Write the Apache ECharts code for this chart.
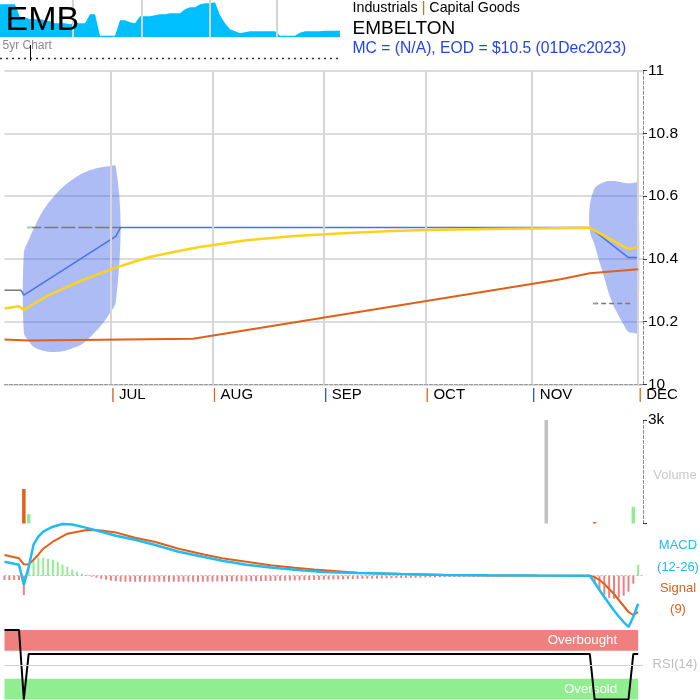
<!DOCTYPE html>
<html><head><meta charset="utf-8">
<script src="https://cdn.jsdelivr.net/npm/echarts@6/dist/echarts.min.js"></script>
<style>html,body{margin:0;padding:0;background:#fff}#c{width:700px;height:700px}</style>
</head><body><div id="c"></div>
<script>
// ---------- data ----------
const monthLabels = ['JUL','AUG','SEP','OCT','NOV','DEC'];
const monthDays = [22,43,66,87,109,131];          // trading-day index of first day of month
const monthBarColors = ['#c8561a','#e0601a','#2244e8','#e0601a','#2244e8','#e0601a'];
const priceTicks = [10,10.2,10.4,10.6,10.8,11];

const priceGrayDays = [0,3.4];
const priceGrayVals = [10.30,10.30];
const priceDays = [3.4,4,23,24,121,129,131];
const priceVals = [10.30,10.284,10.472,10.50,10.50,10.404,10.404];

const maShortDays = [0,3,4,6,9,12,16,19,23,26,30,35,40,45,50,60,70,80,90,100,110,121,129,131];
const maShortVals = [10.242,10.249,10.237,10.256,10.283,10.304,10.331,10.349,10.372,10.387,10.406,10.422,10.437,10.448,10.459,10.473,10.482,10.489,10.493,10.495,10.497,10.499,10.431,10.438];

const maLongDays = [0,5,20,39,115,121,131];
const maLongVals = [10.143,10.140,10.142,10.145,10.335,10.354,10.367];

const bandLeftDays  = [4,5,6,8,10,12,14,16,18,20,22,23,24];
const bandLeftUpper = [10.419,10.46,10.495,10.555,10.595,10.628,10.652,10.672,10.684,10.692,10.696,10.696,10.50];
const bandLeftLower = [10.164,10.138,10.120,10.107,10.103,10.105,10.115,10.128,10.155,10.188,10.232,10.262,10.50];
const bandRightDays  = [121,122,123,124,125,126,127,128,129,130,131];
const bandRightUpper = [10.57,10.625,10.638,10.645,10.648,10.648,10.646,10.643,10.641,10.642,10.642];
const bandRightLower = [10.49,10.445,10.39,10.34,10.287,10.247,10.218,10.19,10.167,10.164,10.164];

const refHighDays = [4.7,24];   const refHighVal = 10.50;
const refLowDays  = [121.7,129.5]; const refLowVal = 10.258;

const volDays = [4,5,112,122,130];
const volVals = [1000,270,3000,40,480];
const volDir  = ['down','up','flat','down','up'];

const macdDays = [0,3,4,5,6,7,8,10,12,14,17,20,23,27,31,36,41,45,50,55,60,66,73,82,91,100,110,121,122,123,124,125,126,127,128,129,130,131];
const macdVals = [0.014,0.011,-0.009,0.009,0.031,0.039,0.044,0.049,0.0517,0.0512,0.0478,0.044,0.040,0.036,0.031,0.024,0.019,0.015,0.011,0.0083,0.006,0.0038,0.0027,0.0016,0.0008,0.0004,0.0001,0,-0.0068,-0.0143,-0.0213,-0.028,-0.0348,-0.0408,-0.0463,-0.0513,-0.041,-0.028];
const signalDays = [0,3,4,5,6,7,8,10,13,17,20,23,27,31,36,41,45,50,55,60,64,73,82,91,100,110,121,122,123,124,125,126,127,128,129,130,131];
const signalVals = [0.0207,0.0174,0.0114,0.0112,0.016,0.021,0.027,0.034,0.042,0.0457,0.0452,0.0432,0.038,0.034,0.027,0.0215,0.0175,0.014,0.0105,0.008,0.0062,0.003,0.0017,0.0007,0.0003,0.0001,0,-0.0013,-0.0043,-0.0083,-0.0133,-0.0183,-0.0243,-0.0303,-0.0363,-0.0393,-0.0363];
const histVals = [
 -0.0043,-0.0043,-0.0043,-0.0043,-0.0193, 0.007,0.015,0.018,0.018,0.017,
 0.016,0.014,0.011,0.009,0.006, 0.004,0.002,0.001,-0.001,-0.002,
 -0.003,-0.004,-0.005,-0.0055,-0.006, -0.006,-0.006,-0.006,-0.006,-0.006,
 -0.006,-0.006,-0.006,-0.006,-0.006, -0.006,-0.006,-0.006,-0.006,-0.006,
 -0.006,-0.006,-0.0059,-0.0059,-0.0058, -0.0058,-0.0058,-0.0057,-0.0057,-0.0056,
 -0.0056,-0.0055,-0.0055,-0.0054,-0.0053, -0.0052,-0.0051,-0.005,-0.0049,-0.0048,
 -0.0047,-0.0046,-0.0045,-0.0044,-0.0043, -0.0042,-0.004,-0.0039,-0.0038,-0.0037,
 -0.0036,-0.0034,-0.0033,-0.0032,-0.0031, -0.003,-0.0029,-0.0028,-0.0027,-0.0026,
 -0.0025,-0.0024,-0.0023,-0.0022,-0.0021, -0.002,-0.0019,-0.0018,-0.0017,-0.0016,
 -0.0015,-0.0014,-0.0013,-0.0012,-0.0012, -0.0011,-0.001,-0.001,-0.0009,-0.0008,
 -0.0008,-0.0007,-0.0007,-0.0006,-0.0006, -0.0005,-0.0005,-0.0004,-0.0004,-0.0004,
 -0.0003,-0.0003,-0.0003,-0.0002,-0.0002, -0.0002,-0.0001,-0.0001,-0.0001,-0.0001,
 -0.0001,0, -0.008,-0.014,-0.019,-0.022,-0.023, -0.022,-0.020,-0.016,-0.008,0.011
];

const rsiDays = [0,3,4,5,121,122,129,130,131];
const rsiVals = [100,100,0,65.5,65.5,0,0,65.5,65.5];

const sparkVals = [33,33,33,33,20,20,18,18,18,17,16,14,14,14,13,14,14,14,23,23,1.5,1.5,1.5,1.5,17,17,15,14,21,21,21,22,23,23,24,24,24,28,30,30,33,34,34,35,22,14,8,6,4,5,6,6,6,6,6,6,1.5,1.5,1.5,1.5,4.5,6,6,6,6,6.5,6.5,6.5,6.5];
const sparkYearMarks = [14.6,28.4,42,55.4];

// ---------- chart ----------
const FONT = "'Liberation Sans', Arial, sans-serif";
const xy = (d, v) => d.map((x,i)=>[x, v[i]]);
const hidX = gi => ({type:'value', gridIndex:gi, min:0, max:132, show:false});
const bands = [
  {days:bandLeftDays, up:bandLeftUpper, lo:bandLeftLower},
  {days:bandRightDays, up:bandRightUpper, lo:bandRightLower}
];
const richLab = {t:{fontSize:15, color:'#000', fontFamily:FONT}};
monthBarColors.forEach((c,i)=>{ richLab['b'+i] = {fontSize:15, color:c, fontFamily:FONT}; });
const dirColor = {down:'#e0601a', up:'#90ee90', flat:'#c0c0c0'};

const chart = echarts.init(document.getElementById('c'));
chart.setOption({
  animation:false,
  backgroundColor:'#fff',
  textStyle:{fontFamily:FONT},
  grid:[
    {left:0, top:0, width:340, height:37.3},
    {left:4.5, top:70.7, width:638.5, height:313.6},
    {left:4.5, top:420, width:638.5, height:103.5},
    {left:4.5, top:515.7, width:638.5, height:120},
    {left:4.5, top:630, width:638.5, height:69.5}
  ],
  xAxis:[
    {type:'value', gridIndex:0, min:0, max:68, show:false},
    {type:'value', gridIndex:1, min:0, max:132,
      axisLine:{show:true, onZero:false, lineStyle:{color:'#999', type:[3,2], width:1}},
      axisTick:{show:false}, splitLine:{show:false},
      axisLabel:{customValues:monthDays, align:'left', margin:3, fontSize:15, color:'#000',
        formatter:v=>{const i=monthDays.indexOf(Math.round(v)); return i<0?'':'{b'+i+'||} {t|'+monthLabels[i]+'}';},
        rich:richLab}
    },
    hidX(2), hidX(3), hidX(4)
  ],
  yAxis:[
    {type:'value', gridIndex:0, min:0, max:37.3, show:false},
    {type:'value', gridIndex:1, position:'right', min:10, max:11, interval:0.2,
      axisLine:{show:true, onZero:false, lineStyle:{color:'#888', type:[3,2], width:1}},
      axisTick:{show:true, length:4, lineStyle:{color:'#333'}},
      axisLabel:{fontSize:15.5, color:'#000', margin:5, formatter:v=>String(Math.round(v*10)/10)},
      splitLine:{show:true, lineStyle:{color:'#dcdcdc', width:2}}},
    {type:'value', gridIndex:2, position:'right', min:0, max:3000, interval:3000,
      axisLine:{show:true, onZero:false, lineStyle:{color:'#888', type:[3,2], width:1}},
      axisTick:{show:true, length:4, lineStyle:{color:'#333'}},
      axisLabel:{fontSize:15.5, color:'#000', margin:5, formatter:v=>v===3000?'3k':''},
      splitLine:{show:false}},
    {type:'value', gridIndex:3, min:-0.06, max:0.06, show:false},
    {type:'value', gridIndex:4, min:0, max:100, show:false}
  ],
  series:[
    // sparkline year gridlines
    {type:'line', xAxisIndex:0, yAxisIndex:0, data:[], z:1, silent:true,
      markLine:{silent:true, symbol:'none', label:{show:false}, animation:false,
        lineStyle:{color:'#d4d4d4', width:2, type:'solid'}, data:sparkYearMarks.map(v=>({xAxis:v}))}},
    {type:'line', xAxisIndex:0, yAxisIndex:0, z:2, silent:true, symbol:'none',
      data:sparkVals.map((v,i)=>[i,v]), lineStyle:{width:0}, areaStyle:{color:'#00bfff', opacity:1}},
    // month gridlines
    {type:'line', xAxisIndex:1, yAxisIndex:1, data:[], z:1, silent:true,
      markLine:{silent:true, symbol:'none', label:{show:false}, animation:false,
        lineStyle:{color:'#d6d6d6', width:2, type:'solid'}, data:monthDays.map(d=>({xAxis:d}))}},
    // bands
    {type:'custom', xAxisIndex:1, yAxisIndex:1, z:2, silent:true, data:[[0,10.5],[1,10.5]],
      renderItem:(params, api)=>{
        const b = bands[params.dataIndex];
        const pts = [];
        b.days.forEach((d,i)=>pts.push(api.coord([d, b.up[i]])));
        for (let i=b.days.length-1;i>=0;i--) { if (b.lo[i]!==b.up[i]) pts.push(api.coord([b.days[i], b.lo[i]])); }
        return {type:'polygon', shape:{points:pts, smooth:0.35}, style:{fill:'rgba(60,95,230,0.42)'}};
      }},
    // reference lines
    {type:'line', xAxisIndex:1, yAxisIndex:1, z:3, silent:true, symbol:'none',
      data:refHighDays.map(d=>[d,refHighVal]), lineStyle:{color:'#7a7a7a', width:1.5, type:[14,3]}},
    {type:'line', xAxisIndex:1, yAxisIndex:1, z:3, silent:true, symbol:'none',
      data:[[refHighDays[0],refHighVal],[refHighDays[0]+1,refHighVal]], lineStyle:{color:'#90ee90', width:1.5}},
    {type:'line', xAxisIndex:1, yAxisIndex:1, z:3, silent:true, symbol:'none',
      data:refLowDays.map(d=>[d,refLowVal]), lineStyle:{color:'#7a7a7a', width:1.5, type:[5,3]}},
    {type:'line', xAxisIndex:1, yAxisIndex:1, z:3, silent:true, symbol:'none',
      data:[[refLowDays[0],refLowVal],[refLowDays[0]+0.8,refLowVal]], lineStyle:{color:'#f08080', width:1.5}},
    // price
    {type:'line', xAxisIndex:1, yAxisIndex:1, z:4, silent:true, symbol:'none',
      data:xy(priceGrayDays, priceGrayVals), lineStyle:{color:'#777', width:1.5}},
    {type:'line', xAxisIndex:1, yAxisIndex:1, z:4, silent:true, symbol:'none',
      data:xy(priceDays, priceVals), lineStyle:{color:'#4a72e0', width:1.5}},
    // moving averages
    {type:'line', xAxisIndex:1, yAxisIndex:1, z:5, silent:true, symbol:'none',
      data:xy(maLongDays, maLongVals), lineStyle:{color:'#e0601a', width:2}},
    {type:'line', xAxisIndex:1, yAxisIndex:1, z:6, silent:true, symbol:'none',
      data:xy(maShortDays, maShortVals), lineStyle:{color:'#ffd21a', width:2.5}},
    // volume
    {type:'bar', xAxisIndex:2, yAxisIndex:2, silent:true, barWidth:3.5,
      data:volDays.map((d,i)=>({value:[d, volVals[i]], itemStyle:{color:dirColor[volDir[i]]}}))},
    // MACD histogram
    {type:'bar', xAxisIndex:3, yAxisIndex:3, silent:true, barWidth:2, z:2,
      data:histVals.map((v,i)=>({value:[i,v], itemStyle:{color:v>=0?'#90ee90':'#f08080'}})),
      markLine:{silent:true, symbol:'none', label:{show:false}, animation:false,
        lineStyle:{color:'#bbb', width:1, type:[2,2]}, data:[{yAxis:0}]}},
    {type:'line', xAxisIndex:3, yAxisIndex:3, z:4, silent:true, symbol:'none',
      data:xy(signalDays, signalVals), lineStyle:{color:'#e0601a', width:2}},
    {type:'line', xAxisIndex:3, yAxisIndex:3, z:5, silent:true, symbol:'none',
      data:xy(macdDays, macdVals), lineStyle:{color:'#1ebcf0', width:2.5}},
    // RSI
    {type:'line', xAxisIndex:4, yAxisIndex:4, data:[], z:1, silent:true,
      markArea:{silent:true, animation:false, data:[
        [{xAxis:0, yAxis:70, itemStyle:{color:'#f08080'},
          label:{show:true, position:'insideRight', distance:21, color:'#fff', fontSize:13.3, formatter:'Overbought'}},
         {xAxis:131, yAxis:100}],
        [{xAxis:0, yAxis:0, itemStyle:{color:'#90ee90'},
          label:{show:true, position:'insideRight', distance:21, color:'#fff', fontSize:13.3, formatter:'Oversold'}},
         {xAxis:131, yAxis:30}]
      ]},
      markLine:{silent:true, symbol:'none', label:{show:false}, animation:false,
        lineStyle:{color:'#cfcfcf', width:1, type:'solid'}, data:[{yAxis:50}]}},
    {type:'line', xAxisIndex:4, yAxisIndex:4, z:4, silent:true, symbol:'none',
      data:xy(rsiDays, rsiVals), lineStyle:{color:'#000', width:2}}
  ],
  graphic:[
    {type:'text', x:5.5, y:20.5, z:100, style:{text:'EMB', fontSize:34, fontFamily:FONT, fill:'#000', verticalAlign:'middle'}},
    {type:'text', x:2.5, y:45.5, z:100, style:{text:'5yr Chart', fontSize:12, fontFamily:FONT, fill:'#8a8a8a', verticalAlign:'middle'}},
    {type:'line', z:100, shape:{x1:0,y1:58.5,x2:340,y2:58.5}, style:{stroke:'#333', lineWidth:1.5, lineDash:[2,4]}},
    {type:'line', z:100, shape:{x1:30.5,y1:45,x2:30.5,y2:61}, style:{stroke:'#000', lineWidth:1}},
    {type:'text', x:352.5, y:8.5, z:100, style:{text:'{a|Industrials }{o||}{a| Capital Goods}', fontSize:14.3, fontFamily:FONT, verticalAlign:'middle',
      rich:{a:{fill:'#000', fontSize:14.3, fontFamily:FONT}, o:{fill:'#e0601a', fontSize:14.3, fontFamily:FONT}}}},
    {type:'text', x:352.5, y:28.5, z:100, style:{text:'EMBELTON', fontSize:19, fontFamily:FONT, fill:'#000', verticalAlign:'middle'}},
    {type:'text', x:352.5, y:48.5, z:100, style:{text:'MC = (N/A), EOD = $10.5 (01Dec2023)', fontSize:15.7, fontFamily:FONT, fill:'#2244e8', verticalAlign:'middle'}},
    {type:'text', x:675, y:475.5, z:100, style:{text:'Volume', fontSize:13, fontFamily:FONT, fill:'#c8c8c8', align:'center', verticalAlign:'middle'}},
    {type:'text', x:678, y:545.5, z:100, style:{text:'MACD', fontSize:13, fontFamily:FONT, fill:'#1ebcf0', align:'center', verticalAlign:'middle'}},
    {type:'text', x:678, y:567, z:100, style:{text:'(12-26)', fontSize:13, fontFamily:FONT, fill:'#1ebcf0', align:'center', verticalAlign:'middle'}},
    {type:'text', x:678, y:588.5, z:100, style:{text:'Signal', fontSize:13, fontFamily:FONT, fill:'#e0601a', align:'center', verticalAlign:'middle'}},
    {type:'text', x:678, y:609.5, z:100, style:{text:'(9)', fontSize:13, fontFamily:FONT, fill:'#e0601a', align:'center', verticalAlign:'middle'}},
    {type:'text', x:675, y:664.5, z:100, style:{text:'RSI(14)', fontSize:13, fontFamily:FONT, fill:'#bdbdbd', align:'center', verticalAlign:'middle'}}
  ]
});
</script></body></html>
